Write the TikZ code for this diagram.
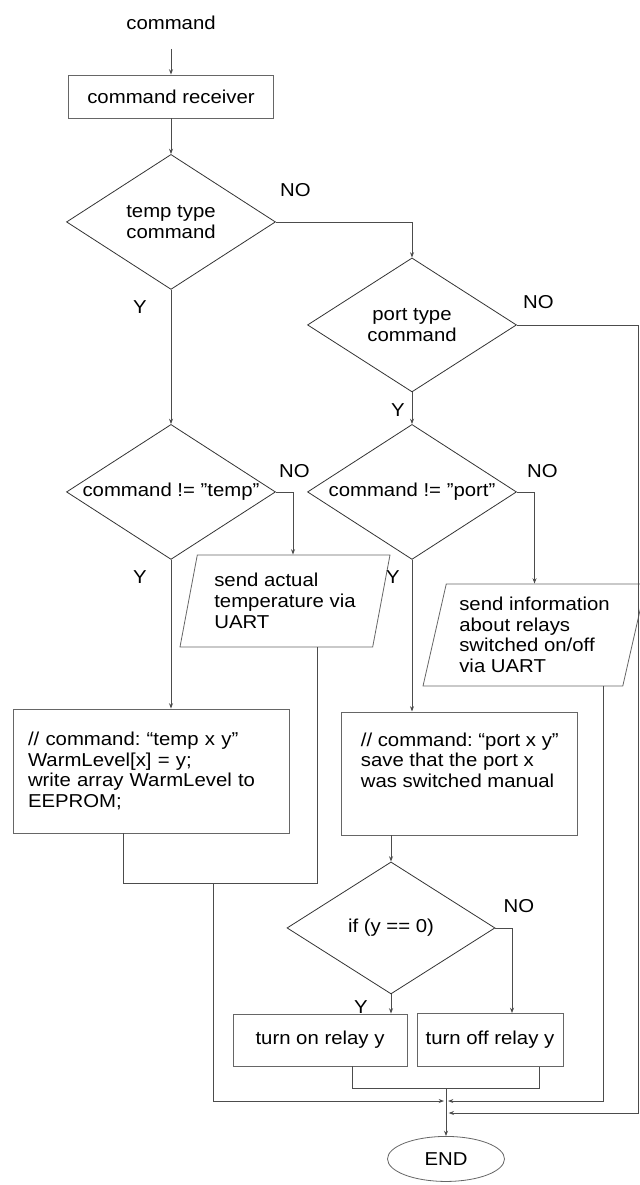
\documentclass[tikz,border=0pt]{standalone}
\usepackage{fontspec}
\setmainfont{Liberation Sans}[FakeStretch=1.09]
\usetikzlibrary{shapes.geometric, positioning, arrows.meta, calc}
\frenchspacing

\begin{document}
\begin{tikzpicture}[x=0.75pt,y=-0.75pt,on grid,font=\fontsize{14}{15.5}\selectfont,
    >={Stealth[length=4pt,width=3pt]},
    line/.style={draw=black!70,line width=0.6pt},
    proc/.style={rectangle,draw=black!60,line width=0.6pt,inner sep=2pt},
    decision/.style={diamond,draw=black!80,line width=0.6pt,aspect=1.55,inner sep=0pt,
        minimum width=156.75pt,minimum height=101.25pt,align=center},
    io/.style={trapezium,trapezium left angle=74,trapezium right angle=106,
        trapezium stretches body,draw=black!60,line width=0.6pt,inner sep=2pt,align=left},
    lbl/.style={inner sep=0pt}]
    \useasboundingbox (0,0) rectangle (639,1185);

    \node[lbl] (cmd) at (171,23) {command};
    \node[proc,minimum width=153.75pt,minimum height=32.25pt] (recv) [below=55.1pt of cmd] {command receiver};
    \node[decision] (d1) [below=94.1pt of recv] {temp type\\command};
    \node[decision,minimum height=100.5pt] (d2) [below right=77.25pt and 180.75pt of d1] {port type\\command};
    \node[decision] (d3) [below=202.5pt of d1] {command != ''temp''};
    \node[decision] (d4) [below=125.25pt of d2] {command != ''port''};
    \node[io,minimum width=157.5pt,minimum height=69pt] (io1) [below right=81.75pt and 85.5pt of d3] {send actual\\temperature via\\UART};
    \node[io,minimum width=167.25pt,minimum height=76.5pt] (io2) [below right=107.25pt and 91.9pt of d4] {send information\\about relays\\switched on/off\\via UART};
    \node[proc,text width=184.5pt,inner xsep=11.25pt,minimum height=93pt,align=left] (tempbox) [below left=209.25pt and 15pt of d3] {// command: ``temp x y''\\WarmLevel[x] = y;\\write array WarmLevel to\\EEPROM;};
    \node[proc,minimum width=177pt,minimum height=92.25pt] (portbox) [below right=211.1pt and 35.25pt of d4] {};
    \node[lbl,anchor=north west,align=left] (porttxt) at ($(portbox.north west)+(15pt,-15.75pt)$) {// command: ``port x y''\\save that the port x\\was switched manual};
    \node[decision,minimum width=156pt,minimum height=99pt] (d5) [below left=115.9pt and 51pt of portbox] {if (y == 0)};
    \node[proc,minimum width=130.5pt,minimum height=39pt] (onbox) [below left=84pt and 53.25pt of d5] {turn on relay y};
    \node[proc,minimum width=109.5pt,minimum height=39.75pt] (offbox) [right=127.5pt of onbox] {turn off relay y};
    \node[ellipse,draw=black!60,line width=0.6pt,minimum width=87.75pt,minimum height=33.75pt,inner sep=0pt] (fin) [below right=89.25pt and 94.5pt of onbox] {END};

    % NO / Y labels
    \node[lbl] (n1) [above right=18.75pt and 3pt of d1.east] {NO};
    \node[lbl] (n2) [above right=12pt and 4.5pt of d2.east] {NO};
    \node[lbl] (n3) [above right=10.5pt and 2.25pt of d3.east] {NO};
    \node[lbl] (n4) [above right=10.5pt and 7.5pt of d4.east] {NO};
    \node[lbl] (n5) [above right=11.25pt and 6pt of d5.east] {NO};
    \node[lbl] (y1) [below left=8.25pt and 18pt of d1.south] {Y};
    \node[lbl] (y2) [below left=8.25pt and 5.25pt of d2.south] {Y};
    \node[lbl] (y3) [below left=8.25pt and 18pt of d3.south] {Y};
    \node[lbl] (y4) [below left=8.25pt and 9pt of d4.south] {Y};
    \node[lbl] (y5) [below left=4.5pt and 17.25pt of d5.south] {Y};

    \coordinate (jt) at (213,883);
    \coordinate (jn) at (446,1088);
    \coordinate (jm) at (446,1101);
    \coordinate (re) at (638,1113);

    \draw[line,->,shorten <=14pt] (cmd) -- (recv);
    \path[line,->] (recv) edge (d1)
                   (d1) edge (d3)
                   (d2) edge (d4);
    \draw[line,->] (d1.east) -| (d2.north);
    \draw[line,->] (d3.east) -| ($(io1.center |- io1.north)+(6pt,0)$);
    \draw[line,->] (d3.south) -- (d3.south |- tempbox.north);
    \draw[line,->] (d4.east) -| (io2.center |- io2.north);
    \draw[line,->] (d4.south) -- (d4.south |- portbox.north);
    \draw[line,->] (d5.north |- portbox.south) -- (d5.north);
    \draw[line,->] (d5.south) -- (d5.south |- onbox.north);
    \draw[line,->] (d5.east) -| ($(offbox.north)+(16.5pt,0)$);
    \draw[line] ($(tempbox.south)+(-21pt,0)$) |- (jt) -| ($(io1.center |- io1.south)+(24pt,0)$);
    \draw[line,->] (jt) |- ($(jm)+(-1.5pt,0)$);
    \draw[line,->] ($(io2.center |- io2.south)+(51.4pt,0)$) |- ($(jm)+(1.5pt,0)$);
    \draw[line] ($(onbox.south)+(24pt,0)$) |- (jn) -| ($(offbox.south)+(36.75pt,0)$);
    \draw[line,->] (jn) -- (fin);
    \draw[line,->] (d2.east) -| (re) -- ($(fin.north |- re)+(2pt,0)$);
\end{tikzpicture}
\end{document}
